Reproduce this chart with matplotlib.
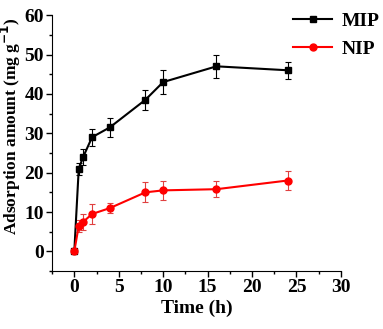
import matplotlib
matplotlib.use("Agg")
from matplotlib import pyplot as plt
from matplotlib.lines import Line2D
from matplotlib.ticker import MultipleLocator

time = [0, 0.5, 1, 2, 4, 8, 10, 16, 24]
mip = [0, 21, 24, 29, 31.5, 38.5, 43, 47, 46]
mip_err = [0, 1.5, 2, 2.2, 2.5, 2.5, 3, 3, 2.2]
nip = [0, 6.5, 7.5, 9.5, 11, 15, 15.5, 15.8, 18]
nip_err = [0, 1.5, 2, 2.5, 1.3, 2.5, 2.5, 2, 2.5]

plt.rcParams['font.family'] = ['Liberation Serif']
plt.rcParams['font.weight'] = 'bold'

fig = plt.figure(figsize=(3.83, 3.29), dpi=100)
ax = fig.add_axes([0.136, 0.176, 0.754, 0.778])

ax.errorbar(time, mip, yerr=mip_err, color="black", marker="s", ms=4,
            lw=1.5, elinewidth=0.8, capsize=2, capthick=0.8)
ax.errorbar(time, nip, yerr=nip_err, color="red", marker="o", ms=5,
            lw=1.5, elinewidth=0.8, ecolor="#e04040", capsize=2, capthick=0.8)

ax.set_xlim(-2.5, 30)
ax.set_ylim(-5, 60)
ax.xaxis.set_major_locator(MultipleLocator(5))
ax.xaxis.set_minor_locator(MultipleLocator(2.5))
ax.yaxis.set_major_locator(MultipleLocator(10))
ax.yaxis.set_minor_locator(MultipleLocator(5))
ax.spines['top'].set_visible(False)
ax.spines['right'].set_visible(False)
ax.tick_params(which='major', direction='out', length=4, width=1, labelsize=14, pad=2)
ax.tick_params(which='minor', direction='out', length=2.5, width=1)

ax.set_xlabel("Time (h)", fontsize=14, fontweight='bold', labelpad=2)
ax.set_ylabel("Adsorption amount (mg g$^{\\mathbf{-1}}$)", fontsize=12.5, fontweight='bold')
ax.yaxis.set_label_coords(-0.1, 0.565)

handles = [Line2D([], [], color="black", marker="s", ms=4, lw=1.5),
           Line2D([], [], color="red", marker="o", ms=5, lw=1.5)]
fig.legend(handles, ["MIP", "NIP"], loc="upper left", bbox_to_anchor=(0.72, 1.015),
           frameon=False, prop={'size': 14, 'weight': 'bold'},
           handlelength=2.0, handletextpad=0.5, labelspacing=0.5)

fig.savefig("out.png", dpi=100)
